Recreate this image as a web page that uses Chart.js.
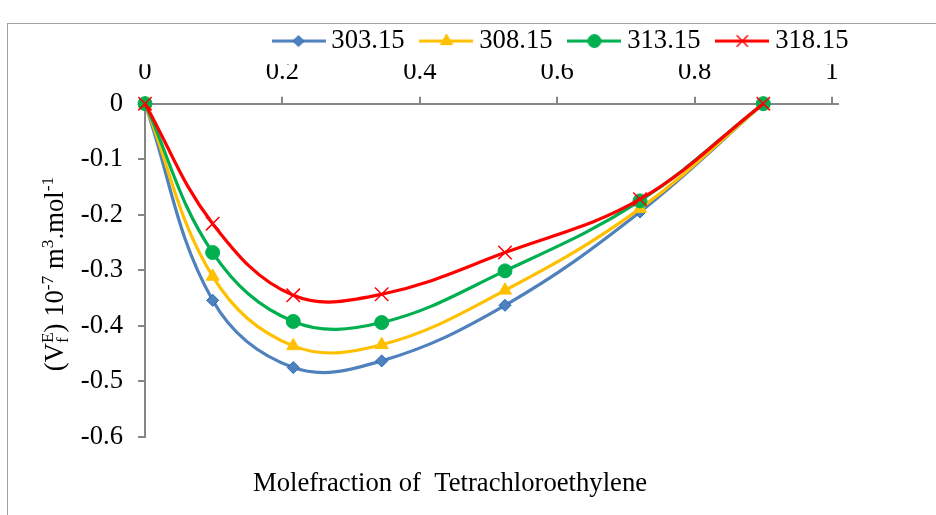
<!DOCTYPE html>
<html><head><meta charset="utf-8">
<script src="https://cdn.jsdelivr.net/npm/chart.js@4/dist/chart.umd.min.js"></script>
<style>
html,body{margin:0;padding:0;background:#fff;overflow:hidden;width:936px;height:515px;}
#frame{position:absolute;left:7px;top:23px;width:1000px;height:600px;border-top:1.5px solid #a0a0a0;border-left:1.5px solid #a0a0a0;}
#wrap{position:absolute;left:0;top:0;width:936px;height:515px;}
</style></head><body>
<div id="frame"></div>
<div id="wrap"><canvas id="c" width="936" height="515"></canvas></div>
<script>
// ---- data ----
const xValues = [0, 0.0985, 0.2158, 0.3445, 0.5240, 0.7205, 0.9000];
const seriesNames = ['303.15', '308.15', '313.15', '318.15'];
const v303 = [0, -0.354, -0.475, -0.463, -0.363, -0.195, 0];
const v308 = [0, -0.311, -0.436, -0.434, -0.336, -0.189, 0];
const v313 = [0, -0.268, -0.392, -0.394, -0.301, -0.175, 0];
const v318 = [0, -0.216, -0.345, -0.343, -0.268, -0.172, 0];
const xTicks = [0, 0.2, 0.4, 0.6, 0.8, 1];
const yTicks = [0, -0.1, -0.2, -0.3, -0.4, -0.5, -0.6];
const xTitle = 'Molefraction of  Tetrachloroethylene';

const FONT = 'Liberation Serif';
const FS = 26.67;
Chart.defaults.font.family = FONT;
Chart.defaults.font.size = FS;
Chart.defaults.color = '#000';

const pts = vals => xValues.map((x, i) => ({x: x, y: vals[i]}));
const styles = [
  {c:'#4F81BD', ps:'rectRot', r:6, bg:'#4F81BD', bc:'#2266B8', bw:1},
  {c:'#FFC000', ps:'triangle', r:7.5, bg:'#FFC000', bc:'#FFC000', bw:1},
  {c:'#00B050', ps:'circle', r:7, bg:'#00B050', bc:'#00B050', bw:1},
  {c:'#FF0000', ps:'crossRot', r:9.5, bg:'#FF0000', bc:'#FF0000', bw:1.5}
];
const allVals = [v303, v308, v313, v318];
const datasets = allVals.map((vals, i) => ({
  label: seriesNames[i],
  data: pts(vals),
  borderColor: styles[i].c,
  backgroundColor: styles[i].c,
  borderWidth: 3.2,
  tension: 0.38,
  pointStyle: styles[i].ps,
  pointRadius: styles[i].r,
  pointHoverRadius: styles[i].r,
  pointBackgroundColor: styles[i].bg,
  pointBorderColor: styles[i].bc,
  pointBorderWidth: styles[i].bw,
  order: 3 - i,
  clip: false,
  fill: false
}));

function legendIcon(st) {
  const c = document.createElement('canvas');
  c.width = 54; c.height = 20;
  const g = c.getContext('2d');
  g.strokeStyle = st.c; g.lineWidth = 3.2;
  g.beginPath(); g.moveTo(0, 10); g.lineTo(54, 10); g.stroke();
  g.fillStyle = st.bg; g.strokeStyle = st.bc; g.lineWidth = st.bw;
  Chart.helpers.drawPoint(g, {pointStyle: st.ps, radius: st.ps === 'crossRot' ? 8 : st.r - 0.5, borderWidth: st.bw, rotation: 0}, 27, 10);
  return c;
}
const icons = styles.map(legendIcon);

const yTitlePlugin = {
  id: 'yTitle',
  afterDraw(chart) {
    const ctx = chart.ctx;
    const big = FS, small = 17.5;
    const segs = [
      {t:'(V', s:big, dy:0},
      {t:'f', s:small, dy:5, stackWith:'E'},
      {t:') 10', s:big, dy:0},
      {t:'-7', s:small, dy:-10},
      {t:' m', s:big, dy:0},
      {t:'3', s:small, dy:-10},
      {t:'.mol', s:big, dy:0},
      {t:'-1', s:small, dy:-10}
    ];
    ctx.save();
    ctx.fillStyle = '#000';
    ctx.textBaseline = 'alphabetic';
    ctx.textAlign = 'left';
    let total = 0;
    const widths = segs.map(sg => {
      ctx.font = sg.s + 'px "' + FONT + '"';
      let w = ctx.measureText(sg.t).width;
      if (sg.stackWith) w = Math.max(w, ctx.measureText(sg.stackWith).width);
      total += w;
      return w;
    });
    ctx.translate(63, 274);
    ctx.rotate(-Math.PI / 2);
    let x = -total / 2;
    segs.forEach((sg, i) => {
      ctx.font = sg.s + 'px "' + FONT + '"';
      ctx.fillText(sg.t, x, sg.dy);
      if (sg.stackWith) ctx.fillText(sg.stackWith, x, -10);
      x += widths[i];
    });
    ctx.restore();
  }
};

const shiftPlugin = {
  id: 'shiftBoxes',
  beforeDraw(chart) {
    const lg = chart.legend;
    if (lg) { lg.left = 256.7; lg.right = 936; }
    const tb = chart.titleBlock;
    if (tb) { const cx = (tb.left + tb.right) / 2; const d = 450 - cx; tb.left += d; tb.right += d; }
  }
};

new Chart(document.getElementById('c'), {
  type: 'line',
  data: {datasets: datasets},
  plugins: [yTitlePlugin, shiftPlugin],
  options: {
    responsive: false,
    devicePixelRatio: 1,
    animation: false,
    events: [],
    layout: {padding: {left: 8, right: 98, top: 5.4, bottom: 0}},
    elements: {line: {capBezierPoints: false}},
    plugins: {
      tooltip: {enabled: false},
      legend: {
        position: 'top',
        align: 'start',
        labels: {
          usePointStyle: true,
          pointStyleWidth: 39,
          padding: 22.3,
          color: '#000',
          font: {family: FONT, size: FS},
          sort: (a, b) => a.datasetIndex - b.datasetIndex,
          generateLabels(chart) {
            const items = Chart.defaults.plugins.legend.labels.generateLabels(chart);
            items.forEach(it => { it.pointStyle = icons[it.datasetIndex]; });
            return items;
          }
        }
      },
      title: {
        display: true,
        position: 'bottom',
        text: xTitle,
        color: '#000',
        font: {family: FONT, size: FS, weight: 'normal', lineHeight: 1.2},
        padding: {top: 31, bottom: 15}
      }
    },
    scales: {
      x: {
        type: 'linear',
        position: 'top',
        min: 0,
        max: 1.0087,
        afterBuildTicks: s => { s.ticks = xTicks.map(v => ({value: v})); },
        afterFit: s => { s.height = 39.3; },
        grid: {drawOnChartArea: false, drawTicks: true, tickLength: 7, color: '#868686', lineWidth: 2},
        border: {display: true, color: '#868686', width: 2},
        ticks: {autoSkip: false, maxRotation: 0, padding: 8.2, color: '#000', font: {size: FS}, callback: v => String(v)}
      },
      y: {
        type: 'linear',
        position: 'left',
        min: -0.6,
        max: 0,
        afterBuildTicks: s => { s.ticks = yTicks.map(v => ({value: v})); },
        afterFit: s => { s.width = 137; },
        grid: {drawOnChartArea: false, drawTicks: true, tickLength: 7, color: '#868686', lineWidth: 2},
        border: {display: true, color: '#868686', width: 2},
        ticks: {autoSkip: false, padding: 15, color: '#000', font: {size: FS}, callback: v => String(v)}
      }
    }
  }
});
</script>
</body></html>
